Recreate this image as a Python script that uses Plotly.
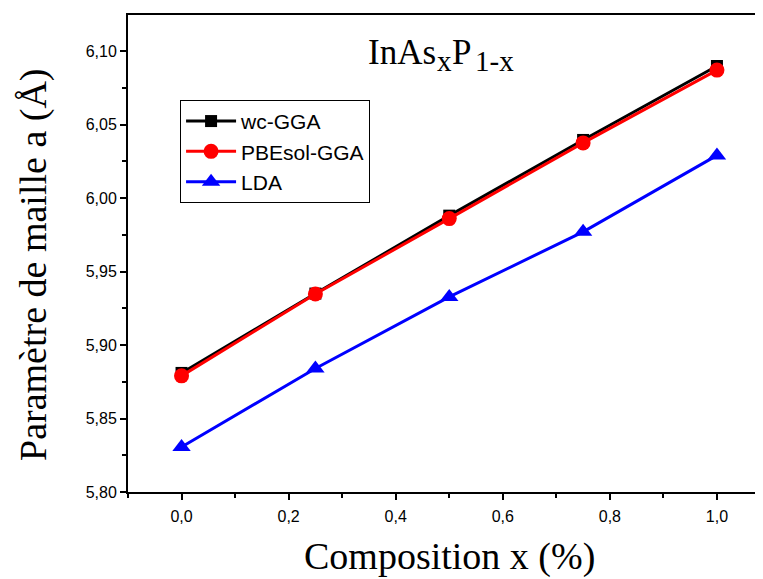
import plotly.graph_objects as go

x_vals = [0.0, 0.25, 0.5, 0.75, 1.0]
wc_gga = [5.881, 5.935, 5.988, 6.0395, 6.0898]
pbesol_gga = [5.879, 5.9347, 5.986, 6.0375, 6.087]
lda = [5.8306, 5.884, 5.9327, 5.977, 6.029]

x_title = "Composition x (%)"
y_title = "Paramètre de maille a (Å)"

fig = go.Figure()
fig.add_trace(go.Scatter(x=x_vals, y=wc_gga, name="wc-GGA", mode="lines+markers",
                         line=dict(color="black", width=3),
                         marker=dict(symbol="square", size=12, color="black")))
fig.add_trace(go.Scatter(x=x_vals, y=pbesol_gga, name="PBEsol-GGA", mode="lines+markers",
                         line=dict(color="#ff0000", width=3),
                         marker=dict(symbol="circle", size=15, color="#ff0000")))
fig.add_trace(go.Scatter(x=x_vals, y=lda, name="LDA", mode="lines+markers",
                         line=dict(color="#0000ff", width=3),
                         marker=dict(symbol="triangle-up", size=16, color="#0000ff")))

serif = "Liberation Serif, Times New Roman"
title_parts = [  # (text, x, y, size)
    ("InAs", 0.3458, 6.0993, 35),
    ("x", 0.4748, 6.0932, 29),
    ("P", 0.5028, 6.0993, 35),
    ("1-x", 0.5458, 6.0932, 29),
]
annotations = [dict(text=t, x=xx, y=yy, xref="x", yref="y", showarrow=False,
                    xanchor="left", yanchor="middle", borderpad=0,
                    font=dict(family=serif, size=s, color="black"))
               for t, xx, yy, s in title_parts]
annotations.append(dict(text=x_title, x=0.507, y=-0.136, xref="paper", yref="paper",
                        showarrow=False, xanchor="center", yanchor="middle",
                        font=dict(family=serif, size=38, color="black")))
annotations.append(dict(text=y_title, x=-0.148, y=0.476, xref="paper", yref="paper",
                        showarrow=False, xanchor="center", yanchor="middle", textangle=-90,
                        font=dict(family=serif, size=38, color="black")))

# page has an 8px body margin, so the figure is sized/offset to compensate
fig.update_layout(
    width=755, height=571,
    margin=dict(l=120, r=0, t=7, b=87, autoexpand=False),
    paper_bgcolor="white", plot_bgcolor="white",
    separators=",.",
    showlegend=True,
    legend=dict(x=0.082, y=0.822, xanchor="left", yanchor="top",
                bordercolor="black", borderwidth=1, bgcolor="white",
                font=dict(family="Liberation Sans, Arial", size=21, color="black"),
                tracegroupgap=0, itemwidth=50),
    annotations=annotations,
)
fig.update_xaxes(range=[-0.1, 1.086], tickvals=[0, 0.2, 0.4, 0.6, 0.8, 1.0], tickformat=".1f",
                 automargin=False,
                 showline=True, linecolor="black", linewidth=2, mirror=True,
                 ticks="outside", ticklen=6, tickwidth=2, tickcolor="black",
                 ticklabelstandoff=3,
                 minor=dict(dtick=0.1, tick0=0, ticks="outside", ticklen=4, tickwidth=2, tickcolor="black"),
                 showgrid=False, zeroline=False,
                 tickfont=dict(family="Liberation Sans, Arial", size=16, color="black"))
fig.update_yaxes(range=[5.80, 6.1245], dtick=0.05, tick0=5.8, tickformat=".2f",
                 automargin=False,
                 showline=True, linecolor="black", linewidth=2,
                 ticks="outside", ticklen=6, tickwidth=2, tickcolor="black",
                 minor=dict(dtick=0.025, tick0=5.8, ticks="outside", ticklen=4, tickwidth=2, tickcolor="black"),
                 showgrid=False, zeroline=False,
                 tickfont=dict(family="Liberation Sans, Arial", size=16, color="black"))

fig.write_html("out.html")
